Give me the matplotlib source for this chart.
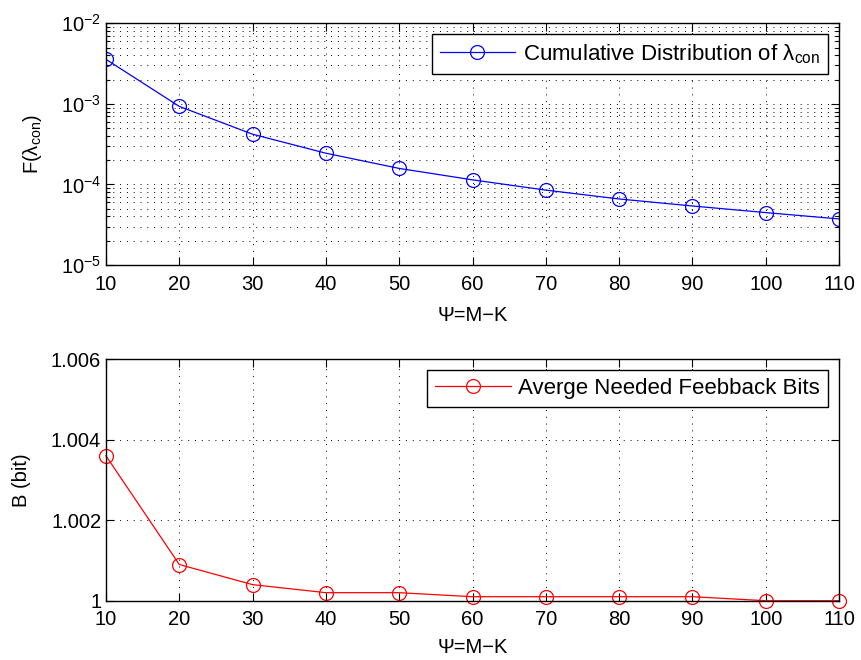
import numpy as np
import matplotlib
matplotlib.use('Agg')
import matplotlib.pyplot as plt
from matplotlib.ticker import LogLocator, FixedLocator, FixedFormatter, NullFormatter

plt.rcParams['font.family'] = ['Liberation Sans', 'DejaVu Sans']
plt.rcParams['mathtext.fontset'] = 'custom'
plt.rcParams['mathtext.rm'] = 'Liberation Sans'
plt.rcParams['mathtext.it'] = 'Liberation Sans'
plt.rcParams['mathtext.default'] = 'regular'
plt.rcParams['font.size'] = 14.5

# data
psi = [10, 20, 30, 40, 50, 60, 70, 80, 90, 100, 110]
cdf = [3.57e-3, 9.3e-4, 4.2e-4, 2.44e-4, 1.58e-4, 1.14e-4, 8.5e-5, 6.6e-5, 5.4e-5, 4.47e-5, 3.73e-5]
bits = [1.0036, 1.0009, 1.0004, 1.0002, 1.0002, 1.0001, 1.0001, 1.0001, 1.0001, 1.0, 1.0]

b_ticks = [1.0, 1.002, 1.004, 1.006]
b_labels = ['1', '1.002', '1.004', '1.006']

fig = plt.figure(figsize=(8.61, 6.6), dpi=100)
ax1 = fig.add_axes([0.1231, 0.5985, 0.8514, 0.3662])
ax2 = fig.add_axes([0.1231, 0.0898, 0.8514, 0.3658])

dots = (0, (1, 6))


def style(ax):
    ax.tick_params(direction='in', which='both', top=True, right=True, length=6, width=0.8)
    ax.tick_params(which='minor', length=3)
    for s in ax.spines.values():
        s.set_linewidth(1.0)
    ax.set_xlim(10, 110)
    ax.set_xticks(psi)
    ax.xaxis.set_tick_params(pad=7)


def add_legend(ax):
    ax.legend(loc='upper right', fancybox=False, edgecolor='black', framealpha=1,
              fontsize=16, borderaxespad=0.5, handlelength=3.4, handletextpad=0.35,
              borderpad=0.35)


# upper plot: cumulative distribution
ax1.semilogy(psi, cdf, color='blue', lw=0.9, marker='o', ms=10, mfc='none', mew=0.9,
             label=r'Cumulative Distribution of $\lambda_{con}$')
ax1.set_ylim(1e-5, 1e-2)
ax1.yaxis.set_major_locator(LogLocator(base=10, numticks=10))
ax1.yaxis.set_minor_locator(LogLocator(base=10, subs=np.arange(2, 10), numticks=20))
ax1.yaxis.set_minor_formatter(NullFormatter())
style(ax1)
ax1.grid(True, which='major', color='black', ls=dots, lw=0.7)
ax1.grid(True, which='minor', axis='y', color='black', ls=dots, lw=0.7)
ax1.set_xlabel('Ψ=M−K', labelpad=9)
ax1.set_ylabel(r'F($\lambda_{con}$)', labelpad=12)
add_legend(ax1)

# lower plot: feedback bits
ax2.plot(psi, bits, color='red', lw=0.9, marker='o', ms=10, mfc='none', mew=0.9,
         label='Averge Needed Feebback Bits', clip_on=False)
ax2.set_ylim(1.0, 1.006)
ax2.yaxis.set_major_locator(FixedLocator(b_ticks))
ax2.yaxis.set_major_formatter(FixedFormatter(b_labels))
style(ax2)
ax2.grid(True, which='major', color='black', ls=dots, lw=0.7)
ax2.set_xlabel('Ψ=M−K', labelpad=6)
ax2.set_ylabel('B (bit)', labelpad=14)
add_legend(ax2)

fig.savefig('out.png', dpi=100)
